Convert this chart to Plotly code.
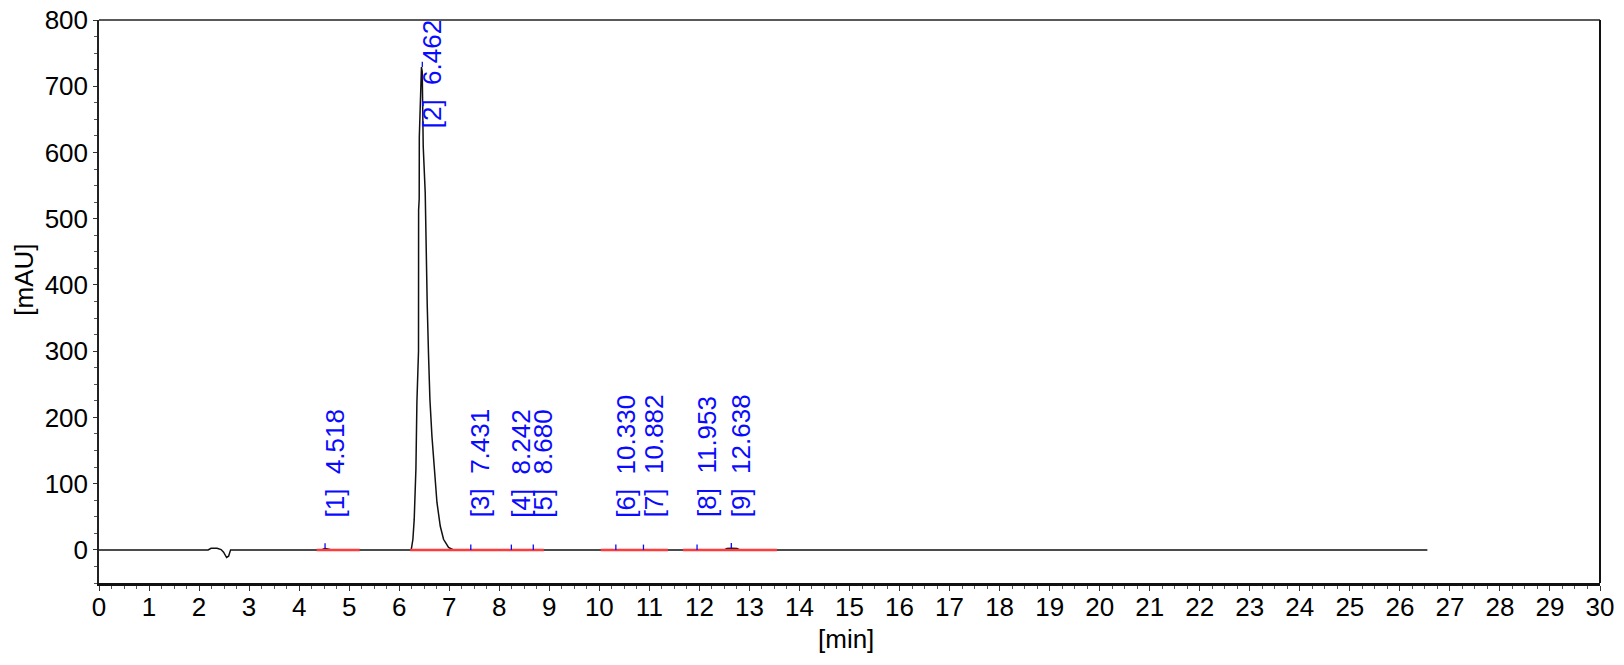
import plotly.graph_objects as go

# ---- chromatogram trace ----
time_min = [0.0, 2.18, 2.24, 2.36, 2.44, 2.49, 2.55, 2.59, 2.63,
            4.45, 4.49, 4.52, 4.57, 4.65,
            6.24, 6.274, 6.30, 6.334, 6.354, 6.37, 6.386, 6.388, 6.40, 6.402, 6.426, 6.445,
            6.46, 6.48, 6.52, 6.54, 6.56, 6.586, 6.614, 6.654, 6.706, 6.754, 6.82, 6.886, 6.986, 7.086,
            12.50, 12.55, 12.64, 12.75, 12.81, 26.55]
signal_mau = [0.0, 0.0, 2.5, 2.5, 0.5, -3.5, -11.5, -9.5, 0.0,
              0.0, 1.5, 2.0, 1.5, 0.0,
              0.0, 16, 46, 122, 223, 263, 300, 513, 530, 623, 690, 729,
              722, 609, 539, 420, 370, 295, 227, 172, 122, 72, 36, 16, 3.6, 0.0,
              0.0, 2.0, 2.5, 2.0, 0.0, 0.0]

# ---- peak table ----
peak_no = [1, 2, 3, 4, 5, 6, 7, 8, 9]
peak_rt = [4.518, 6.462, 7.431, 8.242, 8.680, 10.330, 10.882, 11.953, 12.638]
peak_height = [2.0, 729, 0.0, 0.0, 0.0, 0.0, 0.0, 0.0, 2.5]
label_base = [46, 634, 46, 46, 46, 46, 46, 46, 46]

# ---- integration baselines ----
base_start = [4.35, 6.22, 8.0, 10.03, 11.67]
base_end = [5.21, 8.0, 8.89, 11.37, 13.55]

# ---- axis ticks ----
x_ticks = list(range(0, 31))
y_ticks = [0, 100, 200, 300, 400, 500, 600, 700, 800]

FONT = "Liberation Sans, Arial, sans-serif"
BLUE = "#0a0aff"
FS = 26

fig = go.Figure()

fig.add_trace(go.Scatter(x=time_min, y=signal_mau, mode="lines",
                         line=dict(color="#111111", width=1.5), hoverinfo="skip"))

bx, by = [], []
for s, e in zip(base_start, base_end):
    bx += [s, e, None]
    by += [0, 0, None]
fig.add_trace(go.Scatter(x=bx, y=by, mode="lines",
                         line=dict(color="#ff3b3b", width=2.5), hoverinfo="skip"))

tx, ty = [], []
for rt, h in zip(peak_rt, peak_height):
    tx += [rt, rt, None]
    ty += [h, h + 8, None]
fig.add_trace(go.Scatter(x=tx, y=ty, mode="lines",
                         line=dict(color=BLUE, width=1.3), hoverinfo="skip"))

for n, rt, yb in zip(peak_no, peak_rt, label_base):
    fig.add_annotation(x=rt, y=yb, xref="x", yref="y",
                       text=f"[{n}]\u00a0\u00a0{rt:.3f}",
                       textangle=-90, showarrow=False,
                       xanchor="center", yanchor="bottom", xshift=10,
                       font=dict(family=FONT, size=FS, color=BLUE))

fig.add_annotation(x=0.498, y=-0.0995, xref="paper", yref="paper", text="[min]",
                   showarrow=False, xanchor="center", yanchor="middle",
                   font=dict(family=FONT, size=FS, color="black"))
fig.add_annotation(x=-0.0496, y=0.538, xref="paper", yref="paper", text="[mAU]",
                   showarrow=False, textangle=-90, xanchor="center", yanchor="middle",
                   font=dict(family=FONT, size=FS, color="black"))

# frame lines (top and right)
fig.add_shape(type="line", xref="paper", yref="paper", x0=0, x1=1, y0=1, y1=1,
              line=dict(color="#222222", width=1.5))
fig.add_shape(type="line", xref="paper", yref="paper", x0=1, x1=1, y0=0, y1=1,
              line=dict(color="#111111", width=2))

fig.update_layout(
    width=1624, height=665,
    margin=dict(l=99, r=24, t=20, b=82, autoexpand=False),
    paper_bgcolor="white", plot_bgcolor="white",
    showlegend=False,
    font=dict(family=FONT, size=FS, color="black"),
    xaxis=dict(range=[0, 30], tickvals=x_ticks, ticktext=[str(v) for v in x_ticks],
               automargin=False, ticklabelstandoff=-6,
               showgrid=False, zeroline=False, showline=True, linecolor="#111111", linewidth=3,
               ticks="outside", ticklen=5, tickwidth=1, tickcolor="#333333",
               minor=dict(dtick=0.25, ticks="outside", ticklen=3, tickcolor="#555555", showgrid=False),
               tickfont=dict(family=FONT, size=FS, color="black"), fixedrange=True),
    yaxis=dict(range=[-50, 800], tickvals=y_ticks, ticktext=[str(v) for v in y_ticks],
               automargin=False,
               showgrid=False, zeroline=False, showline=True, linecolor="#222222", linewidth=1.5,
               ticks="outside", ticklen=4, tickwidth=1, tickcolor="#333333",
               minor=dict(dtick=25, ticks="outside", ticklen=3, tickcolor="#555555", showgrid=False),
               tickfont=dict(family=FONT, size=FS, color="black"), fixedrange=True),
)

fig.write_html("out.html", config={"displayModeBar": False},
               post_script="document.body.style.margin='0';document.body.style.overflow='hidden';")
